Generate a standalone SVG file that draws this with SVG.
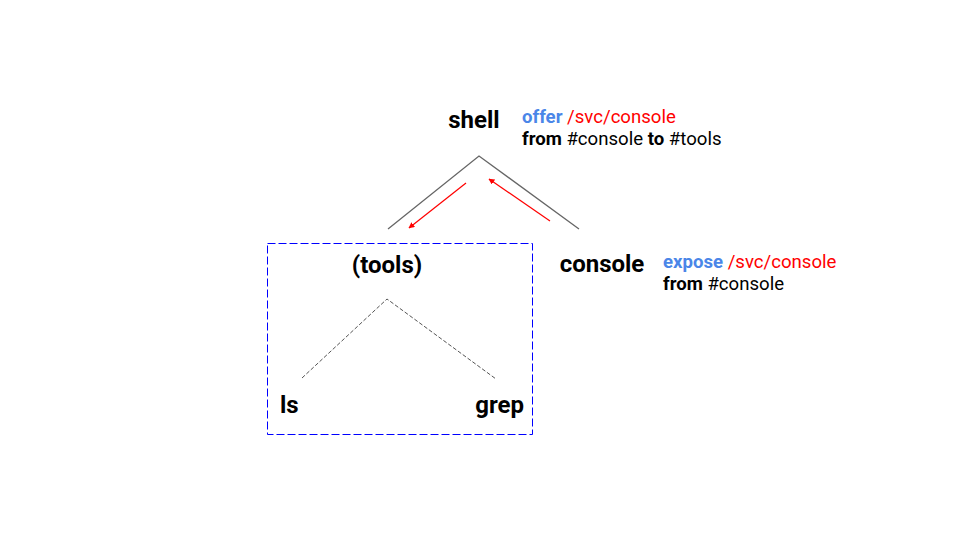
<svg xmlns="http://www.w3.org/2000/svg" width="960" height="540" viewBox="0 0 960 540">
<style>
.node{font-family:Roboto,"Liberation Sans",sans-serif;font-weight:bold;font-size:24px;fill:#000}
.lbl{font-family:Roboto,"Liberation Sans",sans-serif;font-size:18.6px;fill:#000}
.b{font-weight:bold}
.kw{font-weight:bold;fill:#4a86e8}
.red{fill:#ff0000}
.tree{stroke:#666;stroke-width:1.3;fill:none}
.dot{stroke:#555;stroke-width:1;stroke-dasharray:4,2;fill:none}
.arr{stroke:#ff0000;stroke-width:1.2;fill:none;marker-end:url(#ah)}
</style>
<defs>
<marker id="ah" viewBox="0 0 10 10" refX="9" refY="5" markerWidth="6" markerHeight="6" markerUnits="userSpaceOnUse" orient="auto">
<path d="M0,0 L10,5 L0,10 z" fill="#ff0000"/>
</marker>
</defs>
<rect width="960" height="540" fill="#fff"/>
<g id="connectors">
<polyline class="tree" points="388,229 479,156 579,229"/>
<polyline class="dot" points="302,378 387,299 496,379"/>
<line class="arr" x1="466" y1="183" x2="409" y2="228"/>
<line class="arr" x1="550" y1="221" x2="489" y2="179"/>
</g>
<g id="tools-box">
<rect x="267.5" y="243.5" width="265" height="191" fill="none" stroke="#0000ff" stroke-width="1" stroke-dasharray="8,3"/>
</g>
<g id="shell">
<text class="node" x="474" y="128" text-anchor="middle">shell</text>
</g>
<g id="shell-label">
<text class="lbl" x="522" y="123"><tspan class="kw">offer</tspan> <tspan class="red">/svc/console</tspan></text>
<text class="lbl" x="522" y="145"><tspan class="b">from</tspan> #console <tspan class="b">to</tspan> #tools</text>
</g>
<g id="tools">
<text class="node" x="387" y="273" text-anchor="middle">(tools)</text>
</g>
<g id="console">
<text class="node" x="602" y="272" text-anchor="middle">console</text>
</g>
<g id="console-label">
<text class="lbl" x="663" y="268"><tspan class="kw">expose</tspan> <tspan class="red">/svc/console</tspan></text>
<text class="lbl" x="663" y="290"><tspan class="b">from</tspan> #console</text>
</g>
<g id="ls">
<text class="node" x="280" y="413">ls</text>
</g>
<g id="grep">
<text class="node" x="524" y="413" text-anchor="end">grep</text>
</g>
</svg>
